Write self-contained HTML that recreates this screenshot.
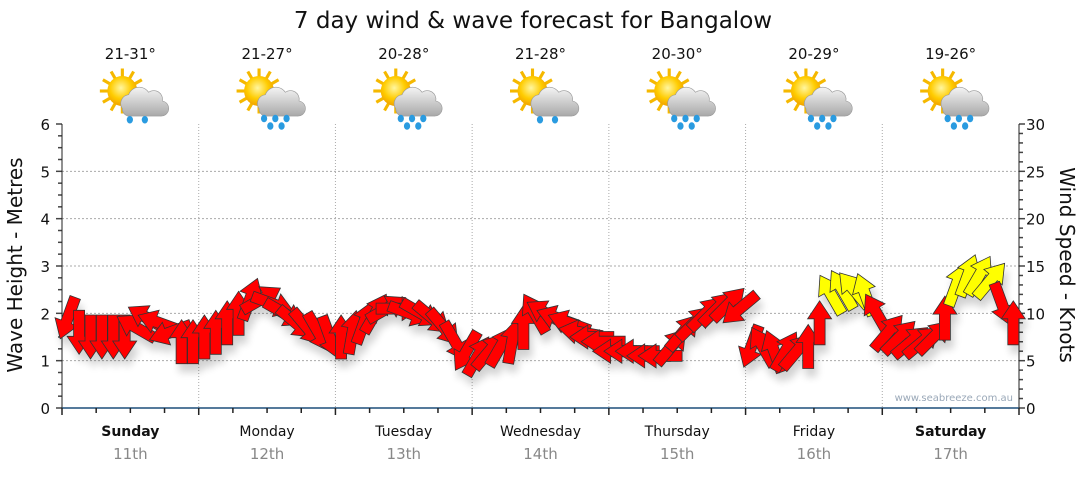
<!DOCTYPE html>
<html><head><meta charset="utf-8"><style>
body{margin:0;background:#fff;width:1080px;height:475px;overflow:hidden;font-family:"DejaVu Sans",sans-serif}
</style></head><body>
<svg id="chart" width="1080" height="475" xmlns="http://www.w3.org/2000/svg" font-family="DejaVu Sans, Liberation Sans, sans-serif">
<defs>
<filter id="sh" x="-50%" y="-50%" width="200%" height="200%"><feGaussianBlur in="SourceAlpha" stdDeviation="4"/><feOffset dx="3" dy="8"/><feComponentTransfer><feFuncA type="linear" slope="0.18"/></feComponentTransfer><feMerge><feMergeNode/><feMergeNode in="SourceGraphic"/></feMerge></filter>
<radialGradient id="sun" cx="0.45" cy="0.4" r="0.6"><stop offset="0" stop-color="#fff6a0"/><stop offset="0.6" stop-color="#ffcc00"/><stop offset="1" stop-color="#f0a000"/></radialGradient>
<linearGradient id="cloud" x1="0" y1="0" x2="0" y2="1"><stop offset="0" stop-color="#f4f4f4"/><stop offset="1" stop-color="#a8a8a8"/></linearGradient>
</defs>
<text x="533" y="28" font-size="23" text-anchor="middle" fill="#111">7 day wind &amp; wave forecast for Bangalow</text>
<g id="grid"></g>
<g id="axes"></g>
<g id="icons"></g>
<g id="arrows" filter="url(#sh)"></g>
<text x="1013" y="401" font-size="10" text-anchor="end" fill="#9aa8b8">www.seabreeze.com.au</text>
<text transform="translate(22,265) rotate(-90)" font-size="20" text-anchor="middle" fill="#111">Wave Height - Metres</text>
<text transform="translate(1060,265) rotate(90)" font-size="20" text-anchor="middle" fill="#111">Wind Speed - Knots</text>
</svg>
<script>
const days=["Sunday","Monday","Tuesday","Wednesday","Thursday","Friday","Saturday"];
const dates=["11th","12th","13th","14th","15th","16th","17th"];
const temps=["21-31°","21-27°","20-28°","21-28°","20-30°","20-29°","19-26°"];
const rainy=[1,2,2,1,2,2,2];
const waveTicks=[0,1,2,3,4,5,6];
const windTicks=[0,5,10,15,20,25,30];
const windSpeed=[
9.5,8,7.5,7.5,7.5,7.5,8.5,9.5,9,8,7,7,
7.5,8,9,10,11.5,11.5,11,10,9,8.5,8,7.5,
7.5,8,9,10,10.5,10.5,10,10,9.5,8.5,7,6,
5.5,6,6.5,7,8.5,10,10,9.5,9,8,7.5,7,
6,6,6,5.5,5.5,6.5,8,9,10,10.5,11,10.5,
6.5,6.5,6,6,6,6.5,9,12,12.5,12.5,12,10,
8,7.5,7,7,7.5,9.5,13,14,14,13.5,11,9];
const windDir=[
200,180,180,180,180,180,300,300,290,250,0,0,
0,0,0,0,20,60,110,120,130,140,150,160,
0,10,20,30,60,90,110,120,130,140,150,210,
30,40,30,10,0,330,300,290,290,280,270,270,
270,270,270,270,270,40,40,45,45,45,45,230,
200,330,340,30,40,0,0,330,330,320,340,330,
40,45,50,50,45,0,20,20,30,40,160,0];
const NS="http://www.w3.org/2000/svg";
const X0=62,X1=1019,Y0=408,Y1=124,DW=(X1-X0)/7;
const yW=m=>Y0-(Y0-Y1)*m/6, yK=k=>Y0-(Y0-Y1)*k/30, xH=h=>X0+(X1-X0)*h/168;
function el(t,a,p){const e=document.createElementNS(NS,t);for(const k in a)e.setAttribute(k,a[k]);p.appendChild(e);return e;}
const grid=document.getElementById('grid'),axes=document.getElementById('axes'),icons=document.getElementById('icons'),arrows=document.getElementById('arrows');
waveTicks.forEach(m=>{if(m>0&&m<6){const g=el('line',{x1:X0,x2:X1,y1:yW(m),y2:yW(m),stroke:'#aaa','stroke-dasharray':'2,2'},grid);

}
const t=el('text',{x:50,y:yW(m)+6,'font-size':15,'text-anchor':'end',fill:'#111'},axes);t.textContent=m;

});
for(let i=0;i<=24;i++){const y=yW(i/4);el('line',{x1:X0-(i%4?4:6),x2:X0,y1:y,y2:y,stroke:'#444','stroke-width':1.5},axes);}
windTicks.forEach(k=>{const t=el('text',{x:1026,y:yK(k)+6,'font-size':15,fill:'#111'},axes);t.textContent=k;

});
for(let k=0;k<=30;k++){const y=yK(k);el('line',{x1:X1,x2:X1+(k%5?4:6),y1:y,y2:y,stroke:'#444','stroke-width':1.5},axes);}
el('line',{x1:X0,x2:X0,y1:Y1,y2:Y0,stroke:'#222'},axes);
el('line',{x1:X1,x2:X1,y1:Y1,y2:Y0,stroke:'#222'},axes);
el('line',{x1:X0,x2:X1,y1:Y0,y2:Y0,stroke:'#1d4f7a','stroke-width':1.5},axes);
for(let d=1;d<7;d++){const g=el('line',{x1:X0+d*DW,x2:X0+d*DW,y1:Y1,y2:Y0,stroke:'#aaa','stroke-dasharray':'1,2'},grid);

}
for(let q=0;q<=28;q++){const x=X0+q*DW/4;el('line',{x1:x,x2:x,y1:Y0,y2:Y0+(q%4?5:7),stroke:'#222','stroke-width':1.5},axes);}
days.forEach((d,i)=>{const cx=X0+(i+0.5)*DW;
const t=el('text',{x:cx,y:436,'font-size':14,'text-anchor':'middle',fill:'#111','font-weight':(i==0||i==6)?'bold':'normal'},axes);t.textContent=d;


const t2=el('text',{x:cx,y:459,'font-size':15,'text-anchor':'middle',fill:'#888'},axes);t2.textContent=dates[i];


const t3=el('text',{x:cx,y:59,'font-size':15,'text-anchor':'middle',fill:'#111'},icons);t3.textContent=temps[i];


const g=el('g',{transform:`translate(${cx+2},96) scale(1.25)`},icons);


for(let r=0;r<12;r++){const a=r*30*Math.PI/180;el('line',{x1:-8+Math.cos(a)*10,y1:-4+Math.sin(a)*10,x2:-8+Math.cos(a)*18,y2:-4+Math.sin(a)*18,stroke:'#f5b800','stroke-width':2.5},g);}
el('circle',{cx:-8,cy:-4,r:12,fill:'url(#sun)'},g);
el('path',{d:'M-8,10 a7,7 0 0 1 5,-11 a9,9 0 0 1 16,-2 a7,7 0 0 1 11,7 a6,6 0 0 1 -2,12 h-26 a6,6 0 0 1 -4,-6z',fill:'url(#cloud)',stroke:'#999','stroke-width':0.5},g);
const drops=rainy[i]==1?[[-2,19],[10,19]]:[[-4,18],[5,18],[14,18],[1,24],[10,24]];
drops.forEach(p=>el('ellipse',{cx:p[0],cy:p[1],rx:2.5,ry:3,fill:'#2a9be0'},g));});
const arrowPath='M0,-22 L12,-4 L5.5,-4 L5.5,22 L-5.5,22 L-5.5,-4 L-12,-4 Z';
windSpeed.forEach((k,i)=>{const x=xH(i*2+1),y=yK(k);
const p=el('path',{d:arrowPath,transform:`translate(${x.toFixed(1)},${y.toFixed(1)}) rotate(${windDir[i]})`,fill:k>=11.8?'#ffff00':'#ff0000',stroke:'#333','stroke-width':0.8},arrows);

});
</script>
</body></html>
